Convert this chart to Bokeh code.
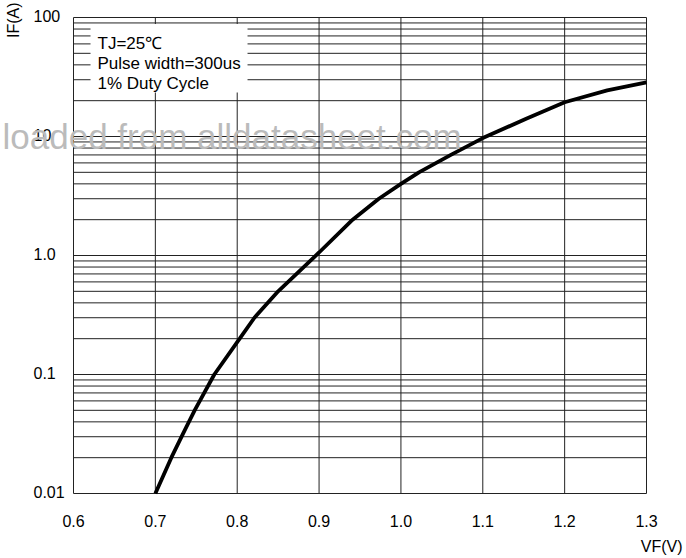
import math
from bokeh.plotting import figure
from bokeh.models import Range1d, Label, BoxAnnotation
from bokeh.core.properties import value
from bokeh.embed import file_html
from bokeh.resources import INLINE

# ---- data ----
vf = [0.700, 0.7195, 0.734, 0.748, 0.772, 0.803, 0.821, 0.850, 0.900, 0.941,
      0.973, 1.000, 1.022, 1.061, 1.100, 1.153, 1.200, 1.252, 1.300]
if_a = [0.010, 0.020, 0.032, 0.050, 0.100, 0.200, 0.300, 0.500, 1.06, 2.0,
        3.0, 4.0, 5.0, 7.0, 9.7, 14.1, 19.4, 24.4, 28.5]

x_ticks = [0.6, 0.7, 0.8, 0.9, 1.0, 1.1, 1.2, 1.3]
x_tick_labels = ["0.6", "0.7", "0.8", "0.9", "1.0", "1.1", "1.2", "1.3"]
y_ticks = [0.01, 0.1, 1, 10, 100]
y_tick_labels = ["0.01", "0.1", "1.0", "10", "100"]
y_minor = [k * 10.0 ** e for e in range(-2, 2) for k in range(2, 10)]

legend_lines = ["TJ=25\u2103", "Pulse width=300us", "1% Duty Cycle"]
x_label = "VF(V)"
y_label = "IF(A)"
watermark = "loaded from alldatasheet.com"

FONT = "Liberation Sans"
W, H = 686, 558
ML, MR, MT, MB = 73, 40, 17, 65          # plot-area margins in pixels
X0, X1 = x_ticks[0], x_ticks[-1]
Y0, Y1 = y_ticks[0], y_ticks[-1]

# full-canvas frame so texts outside the plot area are not clipped
ppx = (W - ML - MR) / (X1 - X0)
dec = (H - MT - MB) / (math.log10(Y1) - math.log10(Y0))
xr = Range1d(X0 - ML / ppx, X1 + MR / ppx)
yr = Range1d(10 ** (math.log10(Y0) - MB / dec), 10 ** (math.log10(Y1) + MT / dec))

p = figure(width=W, height=H, x_range=xr, y_range=yr, y_axis_type="log",
           x_axis_location=None, y_axis_location=None,
           output_backend="svg", toolbar_location=None, min_border=0)
p.background_fill_color = "white"
p.border_fill_color = "white"
p.outline_line_color = None
p.xgrid.visible = False
p.ygrid.visible = False

GRID = "#222222"
# vertical grid lines
p.segment(x0=x_ticks, y0=[Y0] * len(x_ticks), x1=x_ticks, y1=[Y1] * len(x_ticks),
          line_color=GRID, line_width=1)
# horizontal grid lines (decades and 2..9 sub-lines)
hy = y_ticks + y_minor
p.segment(x0=[X0] * len(hy), y0=hy, x1=[X1] * len(hy), y1=hy,
          line_color=GRID, line_width=1)

# the curve
p.line(vf, if_a, line_color="black", line_width=3.8)

# tick labels
p.text(x=x_ticks, y=[Y0] * len(x_ticks), text=x_tick_labels, y_offset=27,
       text_align="center", text_baseline="middle", text_font=value(FONT),
       text_font_size="16px", text_color="black")
p.text(x=[X0] * len(y_ticks), y=y_ticks, text=y_tick_labels, x_offset=-40,
       y_offset=-2, text_align="left", text_baseline="middle",
       text_font=value(FONT), text_font_size="16px", text_color="black")

# legend box (white) hiding grid lines
p.add_layout(BoxAnnotation(left=0.6208, right=0.8126, bottom=23.4, top=88,
                           fill_color="white", fill_alpha=1.0,
                           line_color=None))
for i, t in enumerate(legend_lines):
    p.add_layout(Label(x=X0, y=Y1, x_offset=24, y_offset=-26 - 20 * i,
                       text=t, text_font=FONT, text_font_size="17px",
                       text_color="black", text_baseline="alphabetic",
                       text_align="left"))

# axis titles
p.text(x=[X0], y=[Y1], text=[y_label], x_offset=-60, y_offset=-15,
       angle=math.pi / 2, text_align="right", text_baseline="middle",
       text_font=value(FONT), text_font_size="16px", text_color="black")
p.text(x=[X1], y=[Y0], text=[x_label], x_offset=36, y_offset=53,
       text_align="right", text_baseline="middle",
       text_font=value(FONT), text_font_size="16px", text_color="black")

# watermark
p.add_layout(Label(x=X0, y=10, x_offset=-71, y_offset=0, text=watermark,
                   text_align="left", text_baseline="alphabetic",
                   text_font=FONT, text_font_size="35px",
                   text_color="#bbbbbb", level="overlay"))

open("out.html", "w").write(file_html(p, INLINE))
